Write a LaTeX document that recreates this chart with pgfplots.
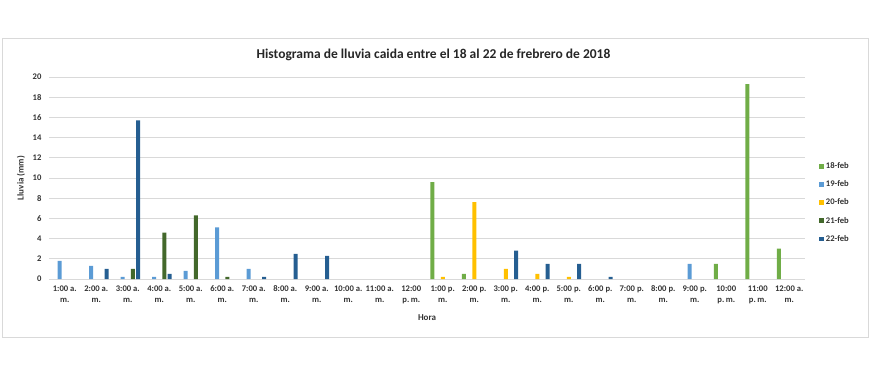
\documentclass[border=0pt]{standalone}
\usepackage{fontspec}
\setmainfont{Carlito}
\usepackage{pgfplots}
\pgfplotsset{compat=1.18}
\definecolor{cA}{HTML}{70AD47}
\definecolor{cB}{HTML}{5B9BD5}
\definecolor{cC}{HTML}{FFC000}
\definecolor{cD}{HTML}{43682B}
\definecolor{cE}{HTML}{255E91}
\definecolor{gridgray}{HTML}{D9D9D9}
\definecolor{txt}{HTML}{333333}
\begin{document}
\begin{tikzpicture}
\path[use as bounding box] (-49pt,-99pt) rectangle (821pt,279pt);
\draw[gridgray, line width=0.8pt] (-47pt,-58pt) rectangle (819pt,241pt);
\begin{axis}[
  scale only axis, width=756pt, height=202pt,
  at={(0pt,0pt)}, anchor=south west,
  ybar=1.2pt, bar width=4pt,
  xmin=-0.5, xmax=23.5, ymin=0, ymax=20,
  /pgf/number format/assume math mode=true,
  xtick={0,...,23},
  xticklabels={{1:00 a.\\m.},{2:00 a.\\m.},{3:00 a.\\m.},{4:00 a.\\m.},{5:00 a.\\m.},{6:00 a.\\m.},{7:00 a.\\m.},{8:00 a.\\m.},{9:00 a.\\m.},{10:00 a.\\m.},{11:00 a.\\m.},{12:00\\p.\,m.},{1:00 p.\\m.},{2:00 p.\\m.},{3:00 p.\\m.},{4:00 p.\\m.},{5:00 p.\\m.},{6:00 p.\\m.},{7:00 p.\\m.},{8:00 p.\\m.},{9:00 p.\\m.},{10:00\\p.\,m.},{11:00\\p.\,m.},{12:00 a.\\m.}},
  ytick={0,2,...,20},
  ymajorgrids, grid style={gridgray, line width=0.9pt},
  axis x line*=bottom, axis y line*=left,
  axis line style={-},
  x axis line style={gridgray, line width=0.9pt},
  y axis line style={draw=none},
  major tick length=0pt,
  xticklabel style={font=\bfseries\fontsize{8.6}{11.5}\selectfont, align=center, text=txt, yshift=-3pt},
  yticklabel style={font=\bfseries\fontsize{8.6}{10}\selectfont, text=txt, xshift=-4pt},
  xlabel={Hora}, ylabel={Lluvia (mm)},
  every axis x label/.style={at={(axis description cs:0.5,0)}, yshift=-39pt, anchor=center, font=\bfseries\fontsize{9}{11}\selectfont, text=txt},
  every axis y label/.style={at={(axis description cs:0,0.5)}, xshift=-28pt, rotate=90, anchor=center, font=\bfseries\fontsize{9}{11}\selectfont, text=txt},
  legend image code/.code={\fill[#1] (0pt,-2.4pt) rectangle (4.8pt,2.4pt);},
  legend style={at={(axis description cs:1.0185,0.587)}, anchor=north west, draw=none, fill=none, inner sep=0pt, font=\bfseries\fontsize{8.6}{10}\selectfont, text=txt, row sep=6.6pt, /tikz/every even column/.append style={column sep=2pt}},
  legend cell align=left,
]
\addplot[fill=cA, draw=none] coordinates {(12,9.6) (13,0.5) (21,1.5) (22,19.3) (23,3.0)};
\addplot[fill=cB, draw=none] coordinates {(0,1.8) (1,1.3) (2,0.2) (3,0.2) (4,0.8) (5,5.1) (6,1.0) (20,1.5)};
\addplot[fill=cC, draw=none] coordinates {(12,0.2) (13,7.6) (14,1.0) (15,0.5) (16,0.2)};
\addplot[fill=cD, draw=none] coordinates {(2,1.0) (3,4.6) (4,6.3) (5,0.2)};
\addplot[fill=cE, draw=none] coordinates {(1,1.0) (2,15.7) (3,0.5) (6,0.2) (7,2.5) (8,2.3) (14,2.8) (15,1.5) (16,1.5) (17,0.2)};
\legend{18-feb,19-feb,20-feb,21-feb,22-feb}
\end{axis}
\node[font=\bfseries\fontsize{13.5}{16}\selectfont, text=black!85] at (384.5pt,224pt) {Histograma de lluvia caida entre el 18 al 22 de frebrero de 2018};
\end{tikzpicture}
\end{document}
